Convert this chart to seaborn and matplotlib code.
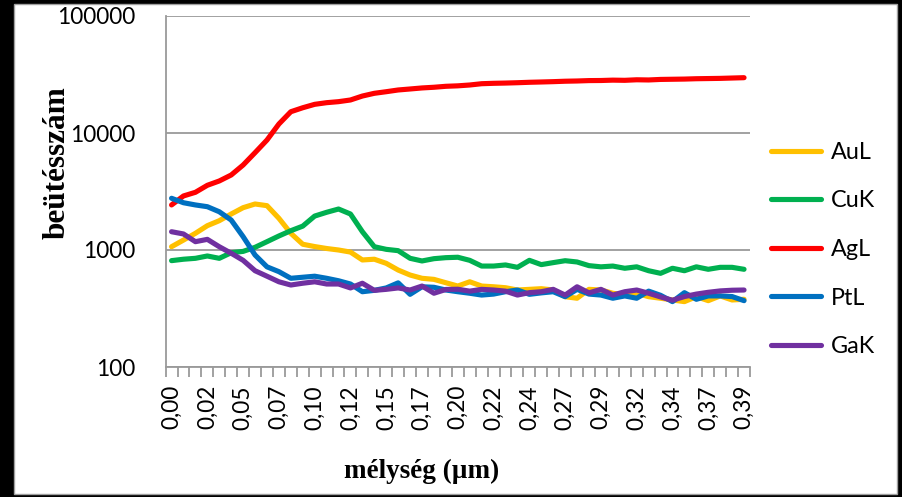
import numpy as np
import pandas as pd
import matplotlib
matplotlib.use("Agg")
import matplotlib.pyplot as plt
from matplotlib.patches import Rectangle
from matplotlib.lines import Line2D
from matplotlib.ticker import NullLocator
import seaborn as sns

# Depth labels shown on every third measurement point
tick_labels = ["0,00", "0,02", "0,05", "0,07", "0,10", "0,12", "0,15", "0,17",
               "0,20", "0,22", "0,24", "0,27", "0,29", "0,32", "0,34", "0,37", "0,39"]

series_names = ["AuL", "CuK", "AgL", "PtL", "GaK"]
series_colors = ["#FFC000", "#00B050", "#FF0000", "#0070C0", "#7030A0"]

# Counts per depth step
aul = [1067, 1216, 1389, 1614, 1780, 2031, 2300, 2473, 2393, 1866, 1389, 1120, 1070,
       1030, 1000, 960, 822, 834, 769, 674, 611, 573, 561, 525, 492, 535, 492, 485,
       476, 455, 461, 467, 455, 399, 387, 461, 455, 427, 412, 427, 399, 387, 374,
       362, 399, 369, 405, 374, 379]
cuk = [811, 834, 849, 889, 849, 948, 973, 1054, 1178, 1318, 1462, 1600, 1950, 2100,
       2240, 2031, 1433, 1067, 1013, 987, 849, 806, 843, 860, 867, 816, 729, 729,
       745, 711, 816, 750, 780, 810, 790, 735, 718, 729, 698, 718, 665, 632, 698,
       665, 718, 684, 711, 711, 684]
agl = [2427, 2897, 3113, 3573, 3890, 4376, 5325, 6791, 8706, 11939, 15200, 16440,
       17580, 18160, 18530, 19150, 20700, 21840, 22540, 23320, 23780, 24270, 24600,
       25070, 25300, 25720, 26380, 26590, 26720, 26900, 27130, 27290, 27470, 27700,
       27830, 28050, 28100, 28300, 28200, 28500, 28400, 28700, 28800, 28900, 29100,
       29200, 29300, 29500, 29700]
ptl = [2767, 2535, 2427, 2345, 2123, 1803, 1300, 906, 718, 653, 573, 585, 597, 573,
       546, 512, 440, 452, 474, 524, 418, 485, 480, 455, 440, 427, 412, 420, 440,
       455, 418, 430, 440, 399, 461, 420, 412, 387, 405, 387, 445, 410, 362, 432,
       379, 405, 405, 400, 369]
gak = [1433, 1371, 1178, 1233, 1067, 938, 816, 665, 597, 535, 502, 520, 535, 512,
       512, 474, 520, 452, 461, 474, 455, 492, 427, 460, 462, 445, 461, 455, 445,
       412, 432, 440, 461, 412, 485, 430, 461, 412, 440, 455, 427, 397, 372, 400,
       420, 435, 447, 453, 455]

y_ticks = [100, 1000, 10000, 100000]
y_tick_labels = ["100", "1000", "10000", "100000"]

n = len(aul)
all_series = [aul, cuk, agl, ptl, gak]
df = pd.DataFrame({
    "pos": np.tile(np.arange(n), len(series_names)),
    "value": np.concatenate([np.asarray(s, dtype=float) for s in all_series]),
    "series": np.repeat(series_names, n),
})

sns.set_theme(style="white")
plt.rcParams["font.family"] = ["Lato", "DejaVu Sans"]
plt.rcParams["text.color"] = "black"

W, H = 902, 497
fig = plt.figure(figsize=(W / 100, H / 100), dpi=100, facecolor="black")
fig.patches.append(Rectangle((14 / W, 3 / H), 883 / W, 490 / H, transform=fig.transFigure,
                             facecolor="white", edgecolor="#a0a0a0", lw=1, zorder=-5))

grey = "#9a9a9a"
ax = fig.add_axes([165.6 / W, 1 - 367 / H, 584.4 / W, 351 / H])
ax.set_facecolor("white")

sns.lineplot(data=df, x="pos", y="value", hue="series", palette=series_colors,
             linewidth=3.7, ax=ax, legend=False, errorbar=None, sort=False)
for line in ax.get_lines():
    line.set_solid_capstyle("round")
    line.set_solid_joinstyle("round")

ax.set_yscale("log")
ax.set_ylim(100, 100000)
ax.set_xlim(-0.5, n - 0.5)

# y axis
ax.set_yticks(y_ticks)
ax.set_yticklabels(y_tick_labels)
ax.yaxis.set_minor_locator(NullLocator())
ax.tick_params(axis="y", which="major", length=8, width=1.3, color=grey,
               pad=13.5, labelsize=16.3, labelcolor="black")
ax.yaxis.grid(True, color=grey, lw=1.3)
ax.xaxis.grid(False)

# x axis: labels on points, tick marks between points
ax.set_xticks(np.arange(0, n, 3))
ax.set_xticklabels(tick_labels, rotation=90, va="top", ha="center")
ax.set_xticks(np.arange(n + 1) - 0.5, minor=True)
ax.tick_params(axis="x", which="major", length=0, pad=13, labelsize=16.3, labelcolor="black")
ax.tick_params(axis="x", which="minor", length=7, width=1.3, color=grey, bottom=True)

for side in ["top", "right"]:
    ax.spines[side].set_visible(False)
for side in ["left", "bottom"]:
    ax.spines[side].set_color(grey)
    ax.spines[side].set_linewidth(1.3)

ax.set_xlabel("")
ax.set_ylabel("")

fig.text(57 / W, 1 - 163 / H, "beütésszám", rotation=90, ha="center", va="center",
         family="Liberation Serif", fontweight="bold", fontsize=22.5, color="black")
fig.text(421.7 / W, 1 - 471 / H, "mélység (µm)", ha="center", va="center",
         family="Liberation Serif", fontweight="bold", fontsize=19.5, color="black")

handles = [Line2D([0], [0], color=c, lw=3.7, solid_capstyle="round") for c in series_colors]
fig.legend(handles, series_names, loc="center left", bbox_to_anchor=(770.5 / W, 1 - 249.5 / H),
           frameon=False, fontsize=16.8, handlelength=2.15, handletextpad=0.42,
           labelspacing=1.18, borderpad=0, borderaxespad=0, labelcolor="black")

fig.savefig("out.png", dpi=100, facecolor="black")
